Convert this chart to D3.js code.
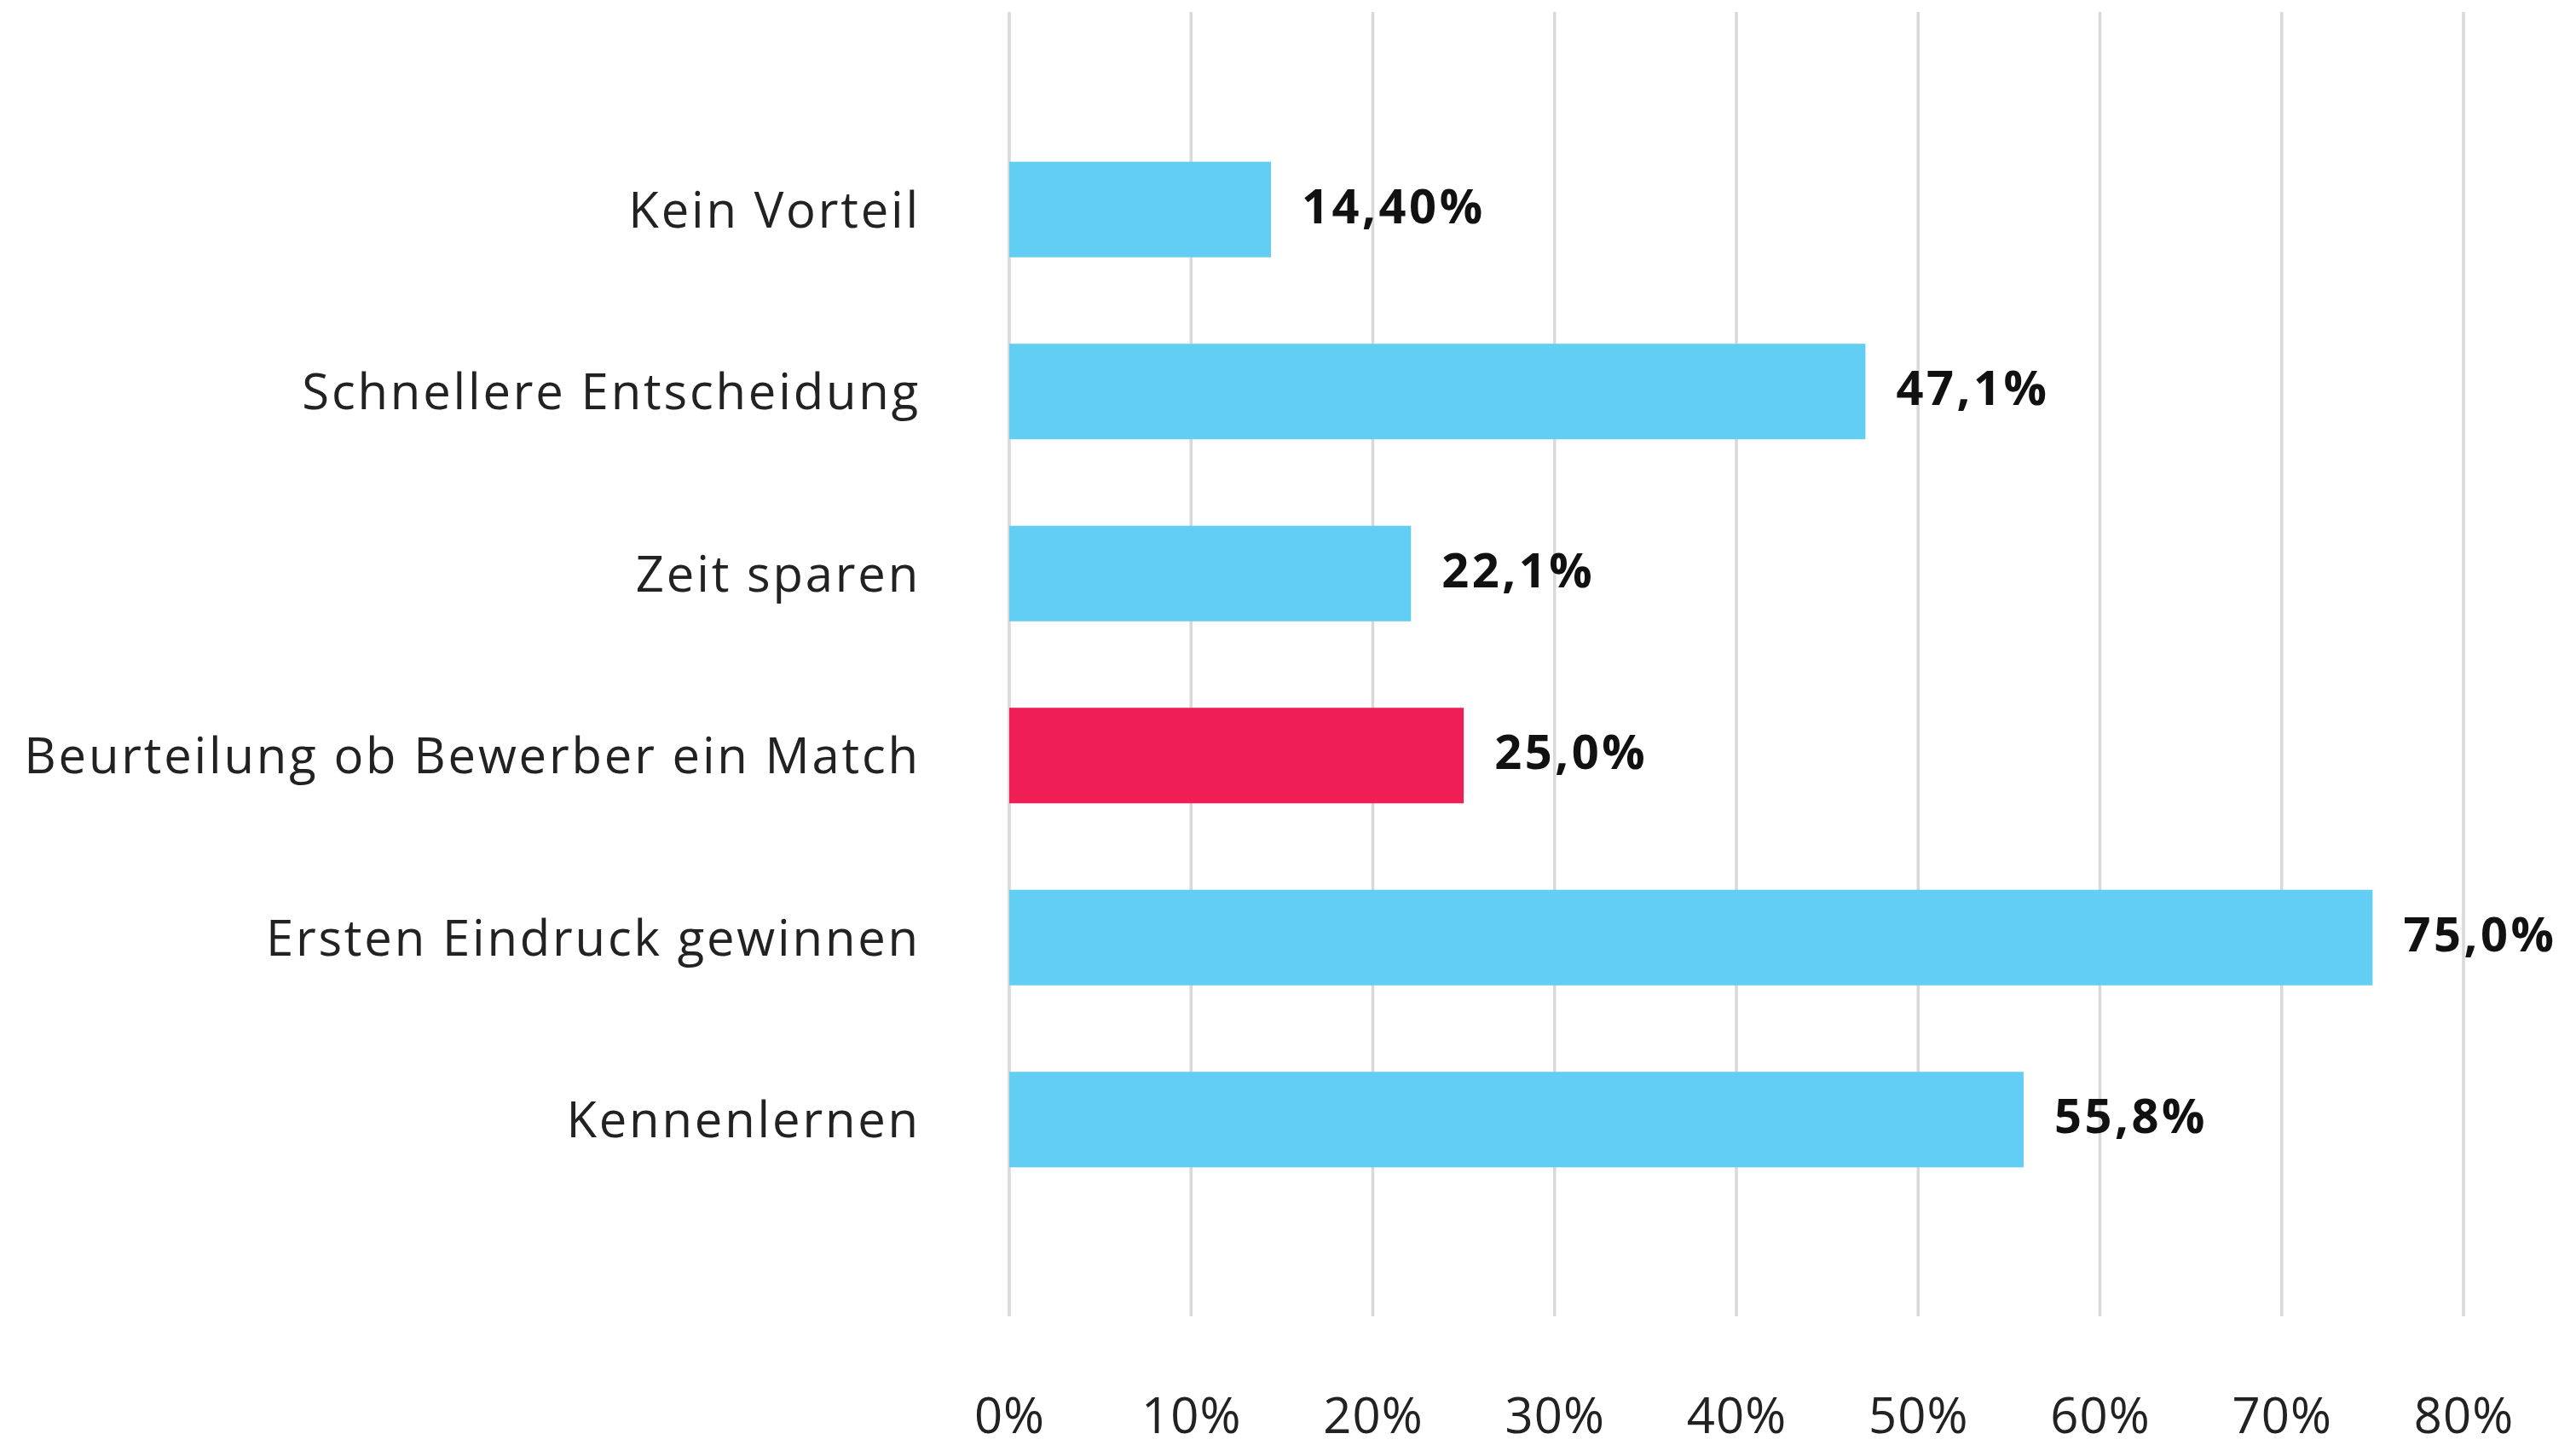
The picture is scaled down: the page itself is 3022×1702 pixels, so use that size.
<!DOCTYPE html>
<html>
<head>
<meta charset="utf-8">
<script src="https://cdn.jsdelivr.net/npm/d3@7"></script>
<style>
  body { margin: 0; background: #fff; }
  svg { display: block; }
</style>
</head>
<body>
<div id="chart"></div>
<script>
const width = 3022, height = 1702;

// data
const categories = ["Kein Vorteil", "Schnellere Entscheidung", "Zeit sparen",
  "Beurteilung ob Bewerber ein Match", "Ersten Eindruck gewinnen", "Kennenlernen"];
const values = [14.4, 47.1, 22.1, 25.0, 75.0, 55.8];
const valueLabels = ["14,40%", "47,1%", "22,1%", "25,0%", "75,0%", "55,8%"];
const highlight = ["Beurteilung ob Bewerber ein Match"];
const ticks = [0, 10, 20, 30, 40, 50, 60, 70, 80];

const font = "'Open Sans', 'Noto Sans', sans-serif";

const svg = d3.select("#chart")
      .append("svg")
      .attr("width", width)
      .attr("height", height);

let x = d3.scaleLinear()
      .domain([0, 80])
      .range([1184, 2890]);

let y = d3.scaleBand()
      .domain(categories)
      .range([139, 1420])
      .paddingInner(0.475)
      .paddingOuter(0.2375);

// vertical grid lines
svg.append("g")
      .selectAll("line")
      .data(ticks)
      .join("line")
      .attr("x1", d => x(d))
      .attr("x2", d => x(d))
      .attr("y1", 14)
      .attr("y2", 1544)
      .attr("stroke", "#d9d9d9")
      .attr("stroke-width", 3.5);

// x tick labels
let xAxis = svg.append("g")
      .attr("transform", "translate(0,1640)")
      .call(d3.axisBottom(x).tickValues(ticks).tickFormat(d => d + "%").tickSize(0));
xAxis.select(".domain").remove();
xAxis.selectAll("text")
      .attr("dy", "0.71em")
      .attr("y", 0)
      .style("font-family", font)
      .style("font-size", "58px")
      .style("letter-spacing", "1px")
      .style("fill", "#222");

// bars
svg.append("g")
      .selectAll("rect")
      .data(categories)
      .join("rect")
      .attr("x", x(0))
      .attr("y", d => y(d))
      .attr("width", (d, i) => x(values[i]) - x(0))
      .attr("height", y.bandwidth())
      .attr("fill", d => highlight.includes(d) ? "#ef1f56" : "#62cef4");

// category labels
let yAxis = svg.append("g")
      .attr("transform", "translate(1080,0)")
      .call(d3.axisLeft(y).tickSize(0).tickPadding(0));
yAxis.select(".domain").remove();
yAxis.selectAll("text")
      .attr("dy", "0.36em")
      .style("font-family", font)
      .style("font-size", "58px")
      .style("letter-spacing", "2.8px")
      .style("fill", "#222");

// value labels
svg.append("g")
      .selectAll("text")
      .data(categories)
      .join("text")
      .attr("x", (d, i) => x(values[i]) + 36)
      .attr("y", d => y(d) + y.bandwidth() / 2 - 4)
      .attr("dy", "0.36em")
      .style("font-family", font)
      .style("font-size", "56px")
      .style("font-weight", "700")
      .style("letter-spacing", "3.5px")
      .style("fill", "#111")
      .text((d, i) => valueLabels[i]);
</script>
</body>
</html>
